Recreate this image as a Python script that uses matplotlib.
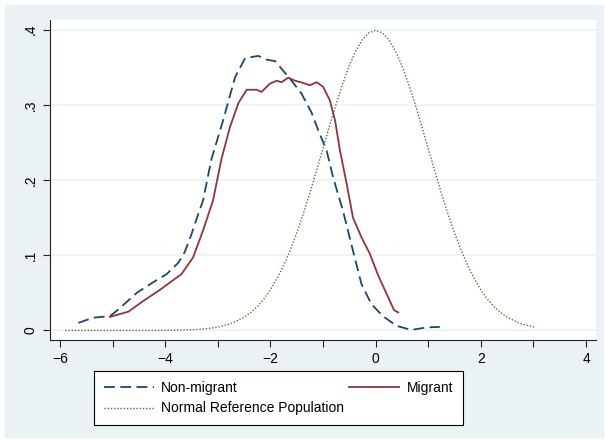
import numpy as np
import matplotlib.pyplot as plt
from matplotlib.patches import Rectangle

plt.rcParams['font.family'] = ['Liberation Sans', 'DejaVu Sans']

# kernel density of the two groups
nonmig_x = [-5.65, -5.37, -5.05, -4.89, -4.54, -4.23, -3.97, -3.75, -3.63, -3.50,
            -3.37, -3.28, -3.12, -2.90, -2.67, -2.48, -2.23, -2.07, -1.91, -1.79,
            -1.63, -1.41, -1.22, -1.09, -0.93, -0.81, -0.62, -0.43, -0.27, -0.08,
            0.14, 0.40, 0.68, 0.97, 1.22]
nonmig_y = [0.010, 0.017, 0.019, 0.028, 0.050, 0.064, 0.075, 0.090, 0.104, 0.128,
            0.155, 0.173, 0.228, 0.279, 0.337, 0.362, 0.365, 0.360, 0.358, 0.348,
            0.335, 0.315, 0.290, 0.266, 0.239, 0.204, 0.159, 0.106, 0.062, 0.035,
            0.019, 0.006, 0.0007, 0.004, 0.0047]

mig_x = [-5.05, -4.70, -4.42, -4.10, -3.69, -3.47, -3.28, -3.09, -2.93, -2.77,
         -2.61, -2.45, -2.26, -2.17, -2.01, -1.88, -1.79, -1.66, -1.53, -1.38,
         -1.25, -1.12, -1.00, -0.87, -0.77, -0.68, -0.55, -0.43, -0.27, -0.11,
         0.05, 0.24, 0.35, 0.43]
mig_y = [0.018, 0.025, 0.039, 0.054, 0.075, 0.097, 0.133, 0.173, 0.228, 0.270,
         0.302, 0.320, 0.320, 0.317, 0.328, 0.332, 0.330, 0.336, 0.332, 0.329,
         0.326, 0.330, 0.324, 0.306, 0.279, 0.240, 0.195, 0.150, 0.124, 0.102,
         0.073, 0.044, 0.027, 0.024]

# normal reference population
norm_x = [-5.9, -5.0, -4.5, -4.0, -3.5, -3.25, -3.0, -2.75, -2.5, -2.375, -2.25,
          -2.125, -2.0, -1.875, -1.75, -1.625, -1.5, -1.375, -1.25, -1.125, -1.0,
          -0.875, -0.75, -0.625, -0.5, -0.375, -0.25, -0.125, 0.0, 0.125, 0.25,
          0.375, 0.5, 0.625, 0.75, 0.875, 1.0, 1.125, 1.25, 1.375, 1.5, 1.625,
          1.75, 1.875, 2.0, 2.125, 2.25, 2.375, 2.5, 2.75, 3.05]
norm_y = [0.0, 0.0, 0.0, 0.0001, 0.0009, 0.002, 0.0044, 0.0091, 0.0175, 0.0238,
          0.0317, 0.0417, 0.054, 0.0689, 0.0863, 0.1067, 0.1295, 0.1551, 0.1826,
          0.2119, 0.242, 0.2721, 0.3011, 0.3282, 0.3521, 0.3718, 0.3867, 0.3958,
          0.3989, 0.3958, 0.3867, 0.3718, 0.3521, 0.3282, 0.3011, 0.2721, 0.242,
          0.2119, 0.1826, 0.1551, 0.1295, 0.1067, 0.0863, 0.0689, 0.054, 0.0417,
          0.0317, 0.0238, 0.0175, 0.0091, 0.0038]

xticks = [-6, -4, -2, 0, 2, 4]
yticks = [0, 0.1, 0.2, 0.3, 0.4]
ylabels = ['0', '.1', '.2', '.3', '.4']

bg = '#eaf2f3'
navy = '#1a476f'
maroon = '#90353b'
green = '#55752f'

W, H = 605, 441
fig = plt.figure(figsize=(W / 100, H / 100), dpi=100, facecolor='white')
fig.patches.append(Rectangle((5 / W, 4 / H), 598 / W, 432 / H,
                             transform=fig.transFigure, color=bg, zorder=-10))

ax = fig.add_axes([50 / W, 101 / H, 546 / W, 320 / H])
ax.set_facecolor('white')

ax.plot(nonmig_x, nonmig_y, color=navy, lw=1.3, dashes=(6, 3), label='Non-migrant')
ax.plot(norm_x, norm_y, color=green, lw=1.0, ls=(0, (1, 1.3)),
        label='Normal Reference Population')
ax.plot(mig_x, mig_y, color=maroon, lw=1.3, label='Migrant')

ax.set_xlim(-6.19, 4.19)
ax.set_ylim(-0.0127, 0.4127)
ax.set_xticks(xticks)
ax.set_xticks([-5, -3, -1, 1, 3], minor=True)
ax.set_yticks(yticks)
ax.set_yticklabels(ylabels, rotation=90, va='center')
ax.tick_params(which='both', direction='out', length=5, width=0.8,
               colors='#222222', labelsize=10, labelcolor='black')
ax.tick_params(axis='y', pad=4)
ax.grid(axis='y', color=bg, lw=1.2)
ax.set_axisbelow(True)
for s in ['top', 'right']:
    ax.spines[s].set_visible(False)
for s in ['left', 'bottom']:
    ax.spines[s].set_linewidth(0.8)
    ax.spines[s].set_color('#222222')

h, l = ax.get_legend_handles_labels()
leg = fig.legend(h, l, ncol=2, loc='center', mode='expand',
                 bbox_to_anchor=(94 / W, 18 / H, 369 / W, 50 / H),
                 borderaxespad=0, frameon=True, fancybox=False,
                 edgecolor='black', facecolor='white', framealpha=1,
                 fontsize=10, handlelength=3.6, handletextpad=0.55,
                 borderpad=0.7, labelspacing=0.5)
leg.get_frame().set_linewidth(0.8)

fig.savefig('out.png', dpi=100, facecolor='white')
